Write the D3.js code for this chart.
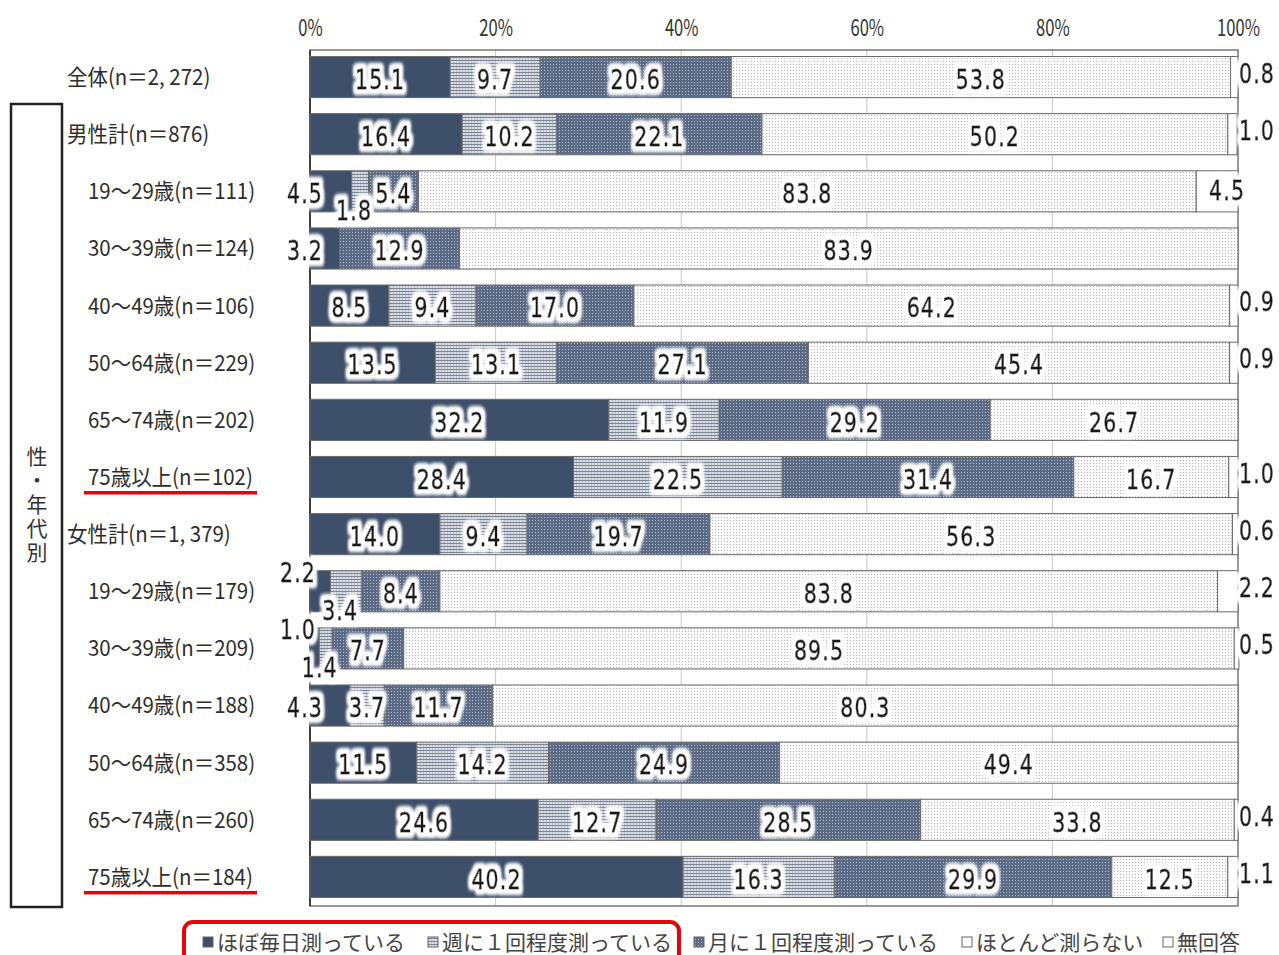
<!DOCTYPE html>
<html>
<head>
<meta charset="utf-8">
<script src="https://cdn.jsdelivr.net/npm/d3@7"></script>
<style>
  body { margin: 0; background: #fff; }
  svg { display: block; }
</style>
</head>
<body>
<div id="chart"></div>
<script>
// Chart data

const rowLabels = [
    "全体(n＝2, 272)",
    "男性計(n＝876)",
    "19～29歳(n＝111)",
    "30～39歳(n＝124)",
    "40～49歳(n＝106)",
    "50～64歳(n＝229)",
    "65～74歳(n＝202)",
    "75歳以上(n＝102)",
    "女性計(n＝1, 379)",
    "19～29歳(n＝179)",
    "30～39歳(n＝209)",
    "40～49歳(n＝188)",
    "50～64歳(n＝358)",
    "65～74歳(n＝260)",
    "75歳以上(n＝184)"
];
const seriesNames = ["ほぼ毎日測っている", "週に１回程度測っている", "月に１回程度測っている", "ほとんど測らない", "無回答"];
const daily    = [15.1, 16.4, 4.5, 3.2, 8.5, 13.5, 32.2, 28.4, 14.0, 2.2, 1.0, 4.3, 11.5, 24.6, 40.2];
const weekly   = [9.7, 10.2, 1.8, 0, 9.4, 13.1, 11.9, 22.5, 9.4, 3.4, 1.4, 3.7, 14.2, 12.7, 16.3];
const monthly  = [20.6, 22.1, 5.4, 12.9, 17.0, 27.1, 29.2, 31.4, 19.7, 8.4, 7.7, 11.7, 24.9, 28.5, 29.9];
const rarely   = [53.8, 50.2, 83.8, 83.9, 64.2, 45.4, 26.7, 16.7, 56.3, 83.8, 89.5, 80.3, 49.4, 33.8, 12.5];
const noAnswer = [0.8, 1.0, 4.5, 0, 0.9, 0.9, 0, 1.0, 0.6, 2.2, 0.5, 0, 0, 0.4, 1.1];
const tickLabels = ["0%", "20%", "40%", "60%", "80%", "100%"];
const groupLabel = "性・年代別";

// Setup

const width = 1279;
const height = 955;
const valueSets = [daily, weekly, monthly, rarely, noAnswer];
const fills = ["#3e4f69", "url(#pWeekly)", "url(#pMonthly)", "url(#pRarely)", "#ffffff"];

const svg = d3.select("#chart")
    .append("svg")
    .attr("width", width)
    .attr("height", height);

const defs = svg.append("defs");

// Weekly: fine horizontal lines
const pW = defs.append("pattern").attr("id", "pWeekly")
    .attr("patternUnits", "userSpaceOnUse").attr("width", 3).attr("height", 3);
pW.append("rect").attr("width", 3).attr("height", 3).attr("fill", "#d9dce2");
pW.append("rect").attr("width", 1).attr("height", 3).attr("fill", "#bcc2cc");
pW.append("rect").attr("width", 3).attr("height", 1).attr("fill", "#7b8596");

// Monthly: dark with light dots
const pM = defs.append("pattern").attr("id", "pMonthly")
    .attr("patternUnits", "userSpaceOnUse").attr("width", 3).attr("height", 3);
pM.append("rect").attr("width", 3).attr("height", 3).attr("fill", "#5d6c86");
pM.append("rect").attr("x", 1).attr("y", 1).attr("width", 1).attr("height", 1).attr("fill", "#b3bac7");

// Rarely: white with grey dots
const pR = defs.append("pattern").attr("id", "pRarely")
    .attr("patternUnits", "userSpaceOnUse").attr("width", 3).attr("height", 3);
pR.append("rect").attr("width", 3).attr("height", 3).attr("fill", "#fbfbfb");
pR.append("rect").attr("x", 1).attr("y", 1).attr("width", 1).attr("height", 1).attr("fill", "#b5b5b5");

// White halo behind value labels
const glow = defs.append("filter").attr("id", "glow")
    .attr("x", "-40%").attr("y", "-50%").attr("width", "180%").attr("height", "200%");
glow.append("feMorphology").attr("in", "SourceAlpha").attr("operator", "dilate").attr("radius", 3.5).attr("result", "d");
glow.append("feGaussianBlur").attr("in", "d").attr("stdDeviation", 2.2).attr("result", "b");
glow.append("feFlood").attr("flood-color", "#ffffff");
glow.append("feComposite").attr("in2", "b").attr("operator", "in").attr("result", "w");
const merge = glow.append("feMerge");
merge.append("feMergeNode").attr("in", "w");
merge.append("feMergeNode").attr("in", "w");
merge.append("feMergeNode").attr("in", "w");
merge.append("feMergeNode").attr("in", "SourceGraphic");

// Scales
const x = d3.scaleLinear().domain([0, 100]).range([310, 1238]);
const y = d3.scaleBand().domain(d3.range(rowLabels.length))
    .range([48.5, 905.5]).paddingInner(0.28).paddingOuter(0.14);

// Gridlines
svg.append("g")
    .selectAll("line")
    .data([20, 40, 60, 80])
    .join("line")
    .attr("x1", d => x(d)).attr("x2", d => x(d))
    .attr("y1", 50).attr("y2", 906)
    .attr("stroke", "#c8c8c8").attr("stroke-width", 1);

// Frame
svg.append("rect")
    .attr("x", x(0)).attr("y", 50)
    .attr("width", x(100) - x(0)).attr("height", 856)
    .attr("fill", "none").attr("stroke", "#777").attr("stroke-width", 1.5);
svg.append("line")
    .attr("x1", x(0)).attr("x2", x(0)).attr("y1", 50).attr("y2", 906)
    .attr("stroke", "#222").attr("stroke-width", 1.5);

// Top axis tick labels
const xAxis = d3.axisTop(x).tickValues([0, 20, 40, 60, 80, 100])
    .tickFormat((d, i) => tickLabels[i]).tickSize(0).tickPadding(0);
const axisG = svg.append("g").attr("transform", "translate(0,36)").call(xAxis);
axisG.select(".domain").remove();
axisG.selectAll("text")
    .attr("y", 0).attr("dy", 0)
    .attr("font-family", "'Noto Sans CJK JP', 'Noto Sans', sans-serif")
    .attr("font-size", 23)
    .attr("fill", "#333")
    .attr("transform", "scale(0.72,1)");

// Stack segments
const segs = [];
rowLabels.forEach((lab, i) => {
    let acc = 0;
    valueSets.forEach((vals, j) => {
        const v = vals[i];
        segs.push({ row: i, s: j, v: v, x0: acc, x1: acc + v });
        acc += v;
    });
});

svg.append("g")
    .selectAll("rect")
    .data(segs.filter(d => d.v > 0))
    .join("rect")
    .attr("x", d => x(d.x0))
    .attr("y", d => y(d.row))
    .attr("width", d => x(d.x1) - x(d.x0))
    .attr("height", y.bandwidth())
    .attr("fill", d => fills[d.s])
    .attr("stroke", "#6a6a6a")
    .attr("stroke-width", 1);

// Value labels
function labelPos(d) {
    const cy = y(d.row) + y.bandwidth() / 2;
    const mid = (x(d.x0) + x(d.x1)) / 2;
    if (d.s === 0 && d.v < 3) return { x: x(0) - 12, y: cy - 19, anchor: "middle" };
    if (d.s === 0 && d.v < 5) return { x: x(0) - 5, y: cy + 2, anchor: "middle" };
    if (d.s === 1 && d.v < 3.5) return { x: mid - 6, y: cy + 19, anchor: "middle" };
    if (d.s === 4 && d.v < 3) return { x: x(100) + 1, y: cy - 4, anchor: "start" };
    if (d.s === 4) return { x: mid + 10, y: cy - 1, anchor: "middle" };
    return { x: mid, y: cy + 2, anchor: "middle" };
}

svg.append("g")
    .selectAll("text")
    .data(segs.filter(d => d.v > 0))
    .join("text")
    .each(function(d) { d.p = labelPos(d); })
    .attr("transform", d => "translate(" + d.p.x + "," + d.p.y + ") scale(0.76,1)")
    .attr("text-anchor", d => d.p.anchor)
    .attr("dy", "0.36em")
    .attr("font-family", "'DejaVu Sans', sans-serif")
    .attr("font-size", 27)
    .attr("letter-spacing", 1.5)
    .attr("fill", "#1a1a1a")
    .attr("stroke", "#1a1a1a")
    .attr("stroke-width", 0.8)
    .attr("filter", "url(#glow)")
    .text(d => d.v.toFixed(1));

// Row labels
const rowG = svg.append("g")
    .selectAll("g")
    .data(rowLabels)
    .join("g")
    .attr("transform", (d, i) => "translate(" + (d.includes("歳") ? 88 : 67) + "," + (y(i) + y.bandwidth() / 2) + ")");
rowG.append("text")
    .attr("transform", "scale(0.93,1)")
    .attr("dy", "0.36em")
    .attr("font-family", "'Noto Sans CJK JP', sans-serif")
    .attr("font-size", 22)
    .attr("fill", "#2e2e2e")
    .text(d => d);

// Red underlines for 75+ rows
rowG.filter(d => d.startsWith("75歳以上"))
    .append("rect")
    .attr("x", -4).attr("y", 14)
    .attr("width", 173).attr("height", 3.5)
    .attr("fill", "#e8000b");

// Group bracket box
svg.append("rect")
    .attr("x", 11).attr("y", 104)
    .attr("width", 51).attr("height", 803)
    .attr("fill", "none").attr("stroke", "#222").attr("stroke-width", 2.5);
svg.append("text")
    .attr("x", 37)
    .attr("y", 446)
    .attr("writing-mode", "vertical-rl")
    .attr("letter-spacing", 3)
    .attr("font-family", "'Noto Sans CJK JP', sans-serif")
    .attr("font-size", 21)
    .attr("fill", "#333")
    .text(groupLabel);

// Legend
const legendX = [203, 428, 694, 962, 1163];
const legendFills = ["#3e4f69", "url(#pWeekly)", "url(#pMonthly)", "#ffffff", "#ffffff"];
const leg = svg.append("g")
    .selectAll("g")
    .data(seriesNames)
    .join("g")
    .attr("transform", (d, i) => "translate(" + legendX[i] + ",950)");
leg.append("rect")
    .attr("x", 0).attr("y", -13)
    .attr("width", 10).attr("height", 10)
    .attr("fill", (d, i) => legendFills[i])
    .attr("stroke", "#666").attr("stroke-width", 1);
leg.append("text")
    .attr("x", 14)
    .attr("font-family", "'Noto Sans CJK JP', sans-serif")
    .attr("font-size", 21)
    .attr("fill", "#444")
    .text(d => d);

// Red highlight box round first two legend items
svg.append("rect")
    .attr("x", 184).attr("y", 922)
    .attr("width", 495).attr("height", 60)
    .attr("rx", 9)
    .attr("fill", "none").attr("stroke", "#e8000b").attr("stroke-width", 4);
</script>
</body>
</html>
